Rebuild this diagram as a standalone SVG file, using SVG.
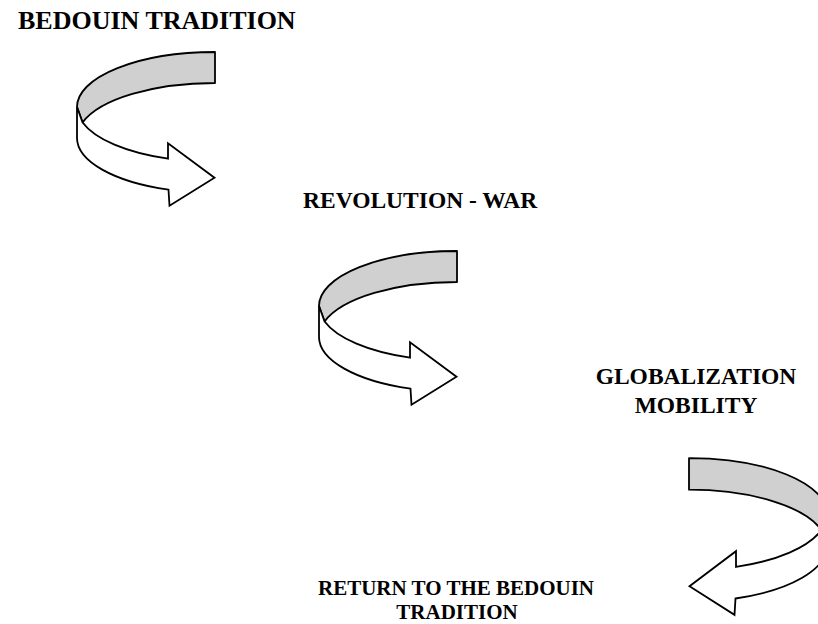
<svg xmlns="http://www.w3.org/2000/svg" xmlns:xlink="http://www.w3.org/1999/xlink" width="818" height="624" viewBox="0 0 818 624">
<style>
.back{fill:#d0d0d0;stroke:#000;stroke-width:1.8;stroke-linejoin:round;vector-effect:non-scaling-stroke}
.front{fill:#fff;stroke:#000;stroke-width:1.8;stroke-linejoin:miter;vector-effect:non-scaling-stroke}
.lbl{font-family:"Liberation Serif","Times New Roman",serif;font-weight:bold;fill:#000}
</style>
<defs>
<g id="curvedArrow">
<path class="back" d="M215,52 A138,55 0 0 0 77,107 L82.6,122.5 A138,55 0 0 1 215,83 Z"/>
<path class="front" d="M77,107 L77,138 A138,55 0 0 0 168.5,189.7 L169.5,205.7 L214.5,177.7 L168,143.3 L168,158.7 A138,55 0 0 1 82.6,122.5 Z"/>
</g>
</defs>
<rect width="818" height="624" fill="#fff"/>
<g id="connectors">
<use id="arrow1" xlink:href="#curvedArrow"/>
<use id="arrow2" xlink:href="#curvedArrow" transform="translate(242,199)"/>
<use id="arrow3" xlink:href="#curvedArrow" transform="translate(904,405) scale(-1,1.02)"/>
</g>
<g id="node-bedouin">
<text class="lbl" x="18" y="29" font-size="26">BEDOUIN TRADITION</text>
</g>
<g id="node-revolution">
<text class="lbl" x="303" y="208" font-size="23.5">REVOLUTION - WAR</text>
</g>
<g id="node-globalization">
<text class="lbl" x="696" y="384" font-size="23.5" text-anchor="middle">GLOBALIZATION</text>
<text class="lbl" x="696" y="413" font-size="23.5" text-anchor="middle">MOBILITY</text>
</g>
<g id="node-return">
<text class="lbl" x="456" y="595" font-size="21" text-anchor="middle">RETURN TO THE BEDOUIN</text>
<text class="lbl" x="457" y="619" font-size="21" text-anchor="middle">TRADITION</text>
</g>
</svg>
